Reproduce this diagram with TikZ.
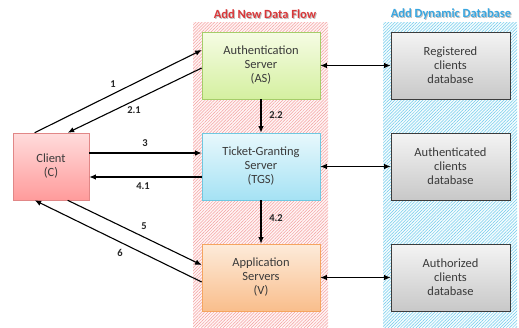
\documentclass[tikz,border=0pt]{standalone}
\usepackage{fontspec}
\setmainfont{Carlito}
\usetikzlibrary{calc,shadows,patterns.meta,arrows.meta}
\definecolor{txt}{HTML}{3A3A3A}
\definecolor{hatchred}{HTML}{F4A0A0}
\definecolor{hatchblue}{HTML}{70CBEC}
\definecolor{titlered}{HTML}{D9383A}
\definecolor{titleblue}{HTML}{39A6E0}
\tikzset{
  box/.style={draw, line width=0.6pt, minimum width=118pt, minimum height=67pt,
    align=center, text=txt, font=\fontsize{12.5}{14}\selectfont,
    drop shadow={shadow xshift=1.2pt, shadow yshift=-1.2pt, opacity=0.35}},
  asbox/.style={box, draw={rgb,255:red,165;green,205;blue,105}, top color={rgb,255:red,246;green,252;blue,228}, bottom color={rgb,255:red,212;green,240;blue,160}},
  tgsbox/.style={box, draw={rgb,255:red,110;green,200;blue,225}, top color={rgb,255:red,232;green,248;blue,252}, bottom color={rgb,255:red,165;green,226;blue,244}},
  appbox/.style={box, draw={rgb,255:red,245;green,165;blue,95}, top color={rgb,255:red,253;green,235;blue,218}, bottom color={rgb,255:red,249;green,190;blue,140}},
  clbox/.style={box, minimum width=76pt, draw={rgb,255:red,225;green,135;blue,135}, top color={rgb,255:red,255;green,220;blue,220}, bottom color={rgb,255:red,255;green,155;blue,155}},
  dbbox/.style={box, minimum width=119pt, draw={rgb,255:red,60;green,60;blue,60}, top color={rgb,255:red,244;green,244;blue,244}, bottom color={rgb,255:red,200;green,200;blue,200}},
  conn/.style={line width=1.1pt, -{Latex[length=6.5pt,width=5.5pt]}},
  dconn/.style={line width=1.1pt, {Latex[length=6.5pt,width=5.5pt]}-{Latex[length=6.5pt,width=5.5pt]}},
  lab/.style={font=\fontsize{10.5}{12}\selectfont\bfseries, text=black!85},
  ttl/.style={font=\fontsize{12.5}{14}\selectfont\bfseries},
}
\begin{document}
\begin{tikzpicture}[x=1pt,y=-1pt]
\useasboundingbox (0,0) rectangle (519,327);
% hatched regions
\fill[red!4] (193,22) rectangle (328,327);
\fill[pattern={Lines[angle=45,distance=2.2pt,line width=0.5pt]}, pattern color=hatchred] (193,22) rectangle (328,327);
\fill[cyan!4] (383,22) rectangle (517,327);
\fill[pattern={Lines[angle=45,distance=2.2pt,line width=0.5pt]}, pattern color=hatchblue] (383,22) rectangle (517,327);
% titles
\node[ttl, text=black!25] (t1s) at (266,14.8) {Add New Data Flow};
\node[ttl, text=titlered] (t1) at (265,14) {Add New Data Flow};
\node[ttl, text=black!25] (t2s) at (452,14.8) {Add Dynamic Database};
\node[ttl, text=titleblue] (t2) at (451,14) {Add Dynamic Database};
% boxes
\node[asbox] (AS) at (261,65.5) {Authentication\\Server\\(AS)};
\node[tgsbox] (TGS) at (261,166.5) {Ticket-Granting\\Server\\(TGS)};
\node[appbox] (V) at (261,277.5) {Application\\Servers\\(V)};
\node[clbox] (C) at (51,166.5) {Client\\(C)};
\node[dbbox] (D1) at (450.5,65.5) {Registered\\clients\\database};
\node[dbbox] (D2) at (450.5,166.5) {Authenticated\\clients\\database};
\node[dbbox] (D3) at (450.5,277.5) {Authorized\\clients\\database};
% connectors
\draw[conn] ($(C.north west)+(22,0)$) -- ($(AS.west)+(0,-15.5)$);
\draw[conn] ($(AS.west)+(0,2.5)$) -- ($(C.north west)+(55,0)$);
\draw[conn] ($(C.east)+(0,-13.5)$) -- ($(TGS.west)+(0,-13.5)$);
\draw[conn] ($(TGS.west)+(0,10.5)$) -- ($(C.east)+(0,10.5)$);
\draw[conn] ($(C.south west)+(55,0)$) -- ($(V.west)+(0,-12.5)$);
\draw[conn] ($(V.west)+(0,4.5)$) -- ($(C.south west)+(22,0)$);
\draw[conn] (AS) -- (TGS);
\draw[conn] (TGS) -- (V);
\draw[dconn] (AS) -- (D1);
\draw[dconn] (TGS) -- (D2);
\draw[dconn] (V) -- (D3);
% labels
\node[lab] (l1) at (113,84) {1};
\node[lab] (l21) at (134,110) {2.1};
\node[lab] (l3) at (145,143) {3};
\node[lab] (l41) at (143,186) {4.1};
\node[lab] (l5) at (144,226) {5};
\node[lab] (l6) at (120,253) {6};
\node[lab] (l22) at (276,115) {2.2};
\node[lab] (l42) at (276,218) {4.2};
\end{tikzpicture}
\end{document}
